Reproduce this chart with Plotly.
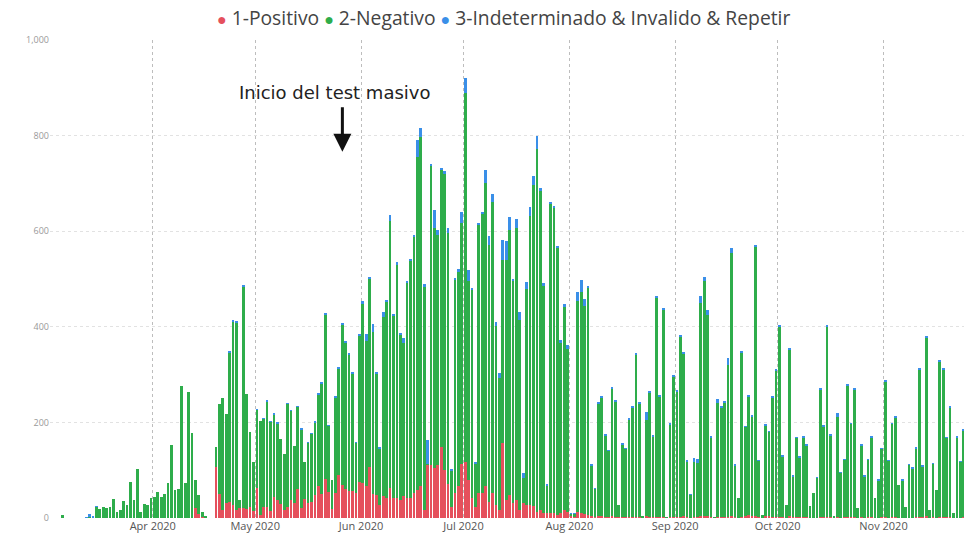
import pandas as pd
import plotly.graph_objects as go

# daily counts, 1 Mar 2020 -> 24 Nov 2020 (one line per month)
positivo = (
    [0] * 31
    + [0, 0, 0, 0, 0, 0, 0, 0, 0, 0, 0, 0, 20, 8, 3, 2, 0, 0, 106, 51, 17, 31, 33, 28, 16, 21, 21, 19, 22, 14]
    + [63, 7, 24, 23, 14, 43, 38, 30, 17, 24, 38, 32, 60, 20, 39, 31, 34, 48, 67, 50, 81, 55, 18, 52, 90, 69, 60, 57, 57, 52, 76]
    + [74, 66, 106, 50, 48, 27, 45, 41, 63, 41, 42, 38, 45, 41, 41, 52, 59, 66, 17, 111, 111, 104, 111, 149, 100, 72, 24, 52, 66, 114]
    + [118, 80, 41, 24, 52, 52, 66, 34, 52, 27, 17, 156, 38, 48, 32, 38, 17, 32, 27, 27, 25, 13, 17, 10, 10, 11, 10, 6, 11, 17, 13]
    + [4, 3, 13, 11, 8, 6, 4, 3, 5, 4, 3, 3, 4, 3, 2, 3, 3, 3, 3, 2, 3, 1, 4, 3, 2, 3, 3, 3, 0, 2, 3]
    + [3, 3, 4, 2, 1, 3, 3, 4, 5, 4, 2, 0, 2, 3, 3, 3, 4, 2, 1, 3, 4, 6, 5, 4, 3, 0, 4, 5, 3, 3]
    + [3, 2, 1, 4, 2, 2, 2, 2, 2, 0, 1, 1, 2, 2, 3, 2, 0, 2, 1, 2, 2, 2, 2, 0, 2, 1, 2, 2, 1, 1, 2]
    + [2, 1, 2, 2, 1, 1, 0, 1, 1, 2, 3, 2, 4, 0, 2, 1, 3, 2, 2, 2, 0, 1, 1, 2]
)

negativo = (
    [0, 0, 0, 0, 6, 0, 0, 0, 0, 0, 0, 1, 2, 2, 24, 18, 24, 20, 22, 40, 12, 17, 35, 27, 76, 38, 102, 12, 29, 28, 41]
    + [44, 54, 43, 50, 74, 153, 59, 60, 277, 73, 264, 178, 60, 40, 9, 1, 0, 0, 42, 187, 234, 187, 314, 383, 393, 17, 464, 241, 158, 103]
    + [164, 195, 184, 220, 187, 174, 160, 135, 117, 215, 186, 119, 173, 166, 79, 126, 142, 152, 192, 231, 344, 138, 62, 200, 223, 335, 307, 285, 245, 105, 305]
    + [374, 305, 395, 340, 254, 118, 375, 412, 559, 382, 488, 345, 321, 451, 497, 536, 697, 731, 468, 3, 625, 502, 482, 578, 620, 524, 76, 447, 449, 503]
    + [771, 415, 436, 90, 561, 583, 634, 538, 610, 374, 276, 384, 502, 554, 463, 568, 398, 51, 453, 604, 671, 760, 668, 477, 59, 646, 639, 559, 356, 425, 341]
    + [5, 6, 441, 462, 436, 476, 106, 58, 234, 249, 170, 138, 267, 240, 25, 151, 142, 204, 228, 340, 237, 2, 202, 260, 168, 458, 251, 434, 2, 194, 293]
    + [261, 376, 341, 117, 48, 115, 113, 445, 490, 421, 166, 2, 238, 228, 238, 317, 550, 108, 40, 344, 187, 248, 208, 564, 117, 6, 189, 175, 249, 305]
    + [397, 127, 26, 349, 85, 166, 125, 167, 150, 26, 52, 83, 266, 190, 397, 171, 3, 209, 94, 120, 276, 195, 267, 20, 150, 86, 120, 167, 40, 78, 143]
    + [283, 119, 195, 209, 68, 78, 22, 110, 103, 144, 307, 106, 373, 17, 111, 58, 323, 309, 166, 230, 11, 168, 117, 182]
)

indeterminado = (
    [0, 0, 0, 0, 0, 0, 0, 0, 0, 0, 0, 1, 6, 2, 1, 0, 0, 0, 0, 0, 0, 0, 0, 0, 0, 0, 0, 0, 0, 0, 0]
    + [0, 0, 0, 0, 0, 0, 0, 0, 0, 0, 0, 0, 0, 0, 0, 0, 0, 0, 0, 0, 0, 0, 2, 2, 2, 0, 3, 0, 0, 0]
    + [1, 0, 1, 2, 1, 1, 1, 0, 0, 1, 1, 0, 1, 1, 0, 1, 1, 1, 2, 2, 3, 1, 0, 2, 2, 3, 2, 2, 2, 1, 3]
    + [5, 14, 4, 15, 3, 2, 12, 4, 11, 4, 5, 3, 10, 4, 4, 5, 35, 19, 4, 49, 5, 38, 10, 5, 5, 10, 2, 4, 6, 23]
    + [31, 23, 4, 2, 4, 5, 28, 17, 16, 10, 10, 42, 40, 28, 5, 19, 17, 12, 13, 19, 19, 26, 5, 4, 2, 5, 4, 5, 5, 5, 8]
    + [1, 1, 18, 24, 14, 4, 2, 1, 2, 2, 1, 1, 2, 2, 0, 1, 1, 2, 2, 3, 2, 0, 16, 3, 2, 3, 2, 3, 0, 2, 3]
    + [2, 2, 2, 1, 1, 7, 7, 15, 10, 10, 2, 0, 10, 2, 2, 15, 10, 1, 0, 2, 1, 2, 2, 3, 1, 0, 2, 2, 2, 2]
    + [2, 1, 0, 2, 1, 1, 1, 1, 1, 0, 0, 1, 2, 1, 2, 1, 0, 9, 1, 1, 2, 1, 2, 0, 1, 1, 1, 1, 0, 1, 1]
    + [2, 1, 1, 1, 0, 1, 0, 1, 1, 1, 2, 1, 2, 0, 1, 0, 5, 2, 1, 1, 0, 1, 1, 1]
)

fechas = pd.date_range("2020-03-01", periods=len(negativo), freq="D")

series = [
    ("1-Positivo", positivo, "#E5505C"),
    ("2-Negativo", negativo, "#2EAD4B"),
    ("3-Indeterminado & Invalido & Repetir", indeterminado, "#3A8FE8"),
]

fig = go.Figure()
for name, vals, color in series:
    fig.add_trace(go.Bar(x=fechas, y=vals, name=name, marker_color=color,
                         marker_line_width=0, xperiod=86400000,
                         xperiodalignment="middle", showlegend=False))

# legend drawn as one line of text with round coloured dots, like Power BI
legend_txt = " ".join(
    f"<span style='color:{c};font-size:16px'>●</span> {n}" for n, _, c in series
)
fig.add_annotation(xref="paper", yref="paper", x=0.4967, y=1.048,
                   xanchor="center", yanchor="middle", text=legend_txt,
                   showarrow=False,
                   font=dict(family="Open Sans", size=19.3, color="#444"))

fig.add_annotation(x="2020-05-24 05:00", y=891, text="Inicio del test masivo",
                   showarrow=False, font=dict(family="DejaVu Sans", size=18, color="#222"))
fig.add_annotation(x="2020-05-26 13:00", y=766, text="", showarrow=True,
                   ax=0, ay=-46, arrowhead=2, arrowsize=1.2, arrowwidth=3,
                   arrowcolor="#111")

fig.update_layout(
    width=964, height=539,
    barmode="stack", bargap=0.2,
    plot_bgcolor="white", paper_bgcolor="white",
    margin=dict(l=50, r=0, t=40, b=21),
    font=dict(family="Open Sans", color="#555"),
    showlegend=False,
)
fig.update_xaxes(
    type="date", range=["2020-03-01 22:00", "2020-11-24 14:00"],
    dtick="M1", tick0="2020-01-01", tickformat="%b %Y",
    showgrid=True, gridcolor="#bdbdbd", griddash="dot", gridwidth=1,
    showline=False, zeroline=False, ticks="",
    tickfont=dict(size=11, color="#555"),
)
fig.update_yaxes(
    range=[0, 1000], tickvals=[0, 200, 400, 600, 800, 1000], tickformat=",",
    showgrid=True, gridcolor="#e2e2e2", griddash="dot", gridwidth=1,
    showline=False, zeroline=False, ticks="",
    tickfont=dict(size=9, color="#999"),
)

# drop the browser's default 8px body margin so the figure fills the window
fig.write_html("out.html", config={"displayModeBar": False},
               post_script="document.body.style.margin='0';")
